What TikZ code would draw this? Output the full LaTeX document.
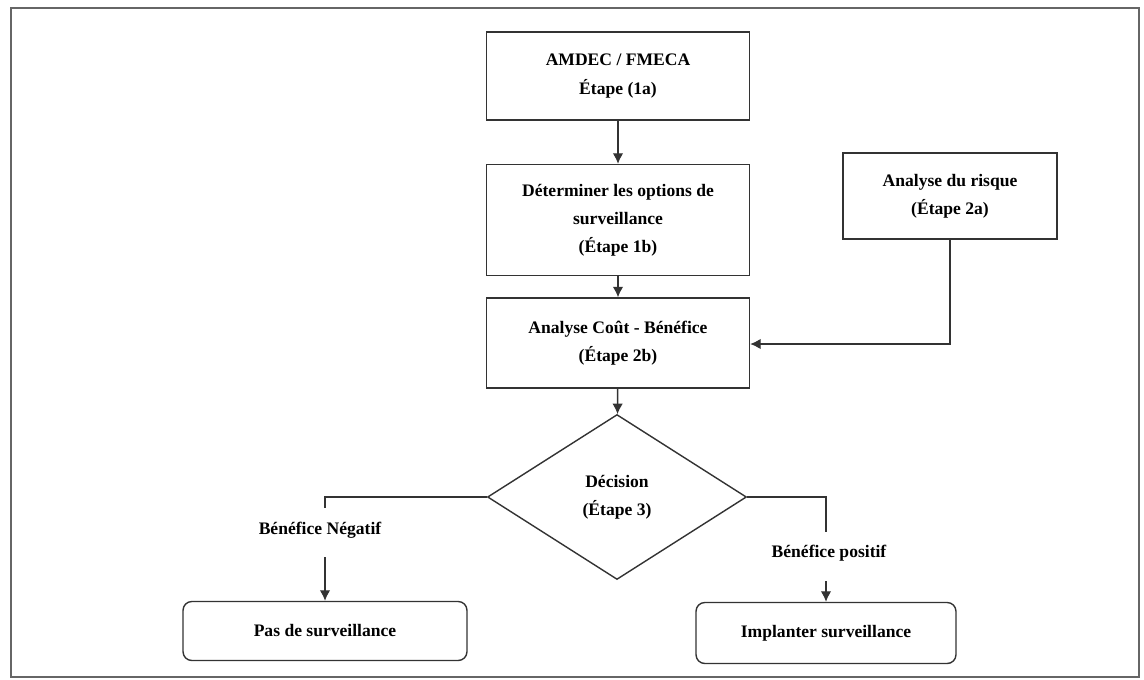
\documentclass[tikz,border=0pt]{standalone}
\usepackage{fontspec}
\setmainfont{Liberation Serif}
\usepackage{tikz}
\usetikzlibrary{arrows.meta}
\usetikzlibrary{positioning}
\usetikzlibrary{shapes.geometric}
\tikzset{>={Latex[length=6pt,width=6pt]}}
\tikzset{
  etapebox/.style = {draw=black!80, thick, align=center, font=\bfseries, inner sep=2pt},
  finbox/.style = {etapebox, rounded corners=5pt},
  decisionbox/.style = {etapebox, diamond, aspect=1.57, inner sep=0pt},
  lien/.style = {draw=black!80, thick},
  etiquette/.style = {align=center, font=\bfseries}
}

\begin{document}
\begin{tikzpicture}[x=0.02cm,y=-0.02cm]
\useasboundingbox (0,0) rectangle (1144,680);
\draw[draw=black!60, very thick] (11,8) rectangle (1139,677);

    \node [etapebox, minimum width=5.26cm, minimum height=1.76cm] (e1a) at (618,76)
      {AMDEC / FMECA\\[4pt]Étape (1a)};
    \node [etapebox, minimum width=5.26cm, minimum height=2.22cm] (e1b) at (618,220)
      {Déterminer les options de\\[4pt]surveillance\\[4pt](Étape 1b)};
    \node [etapebox, minimum width=4.28cm, minimum height=1.72cm] (e2a) at (950,196)
      {Analyse du risque\\[4pt](Étape 2a)};
    \node [etapebox, minimum width=5.26cm, minimum height=1.8cm] (e2b) at (618,343)
      {Analyse Coût - Bénéfice\\[4pt](Étape 2b)};
    \node [decisionbox, minimum width=5.18cm, minimum height=3.3cm] (e3) at (617,497)
      {Décision\\[4pt](Étape 3)};
    \node [finbox, minimum width=5.68cm, minimum height=1.18cm] (pas) at (325,631)
      {Pas de surveillance};
    \node [finbox, minimum width=5.2cm, minimum height=1.22cm] (impl) at (826,633)
      {Implanter surveillance};

    \node [etiquette] (neg) at (320,530) {Bénéfice Négatif};
    \node [etiquette] (pos) at (829,553) {Bénéfice positif};

    \coordinate (negtop) at (325,508);
    \coordinate (negbas) at (325,557);
    \coordinate (postop) at (826,532);
    \coordinate (posbas) at (826,581);
    \coordinate (coude) at (950,344);

    \draw [lien,->] (e1a) -- (e1b);
    \draw [lien,->] (e1b) -- (e2b);
    \draw [lien,->] (e2b) -- (e3);
    \draw [lien,->] (e2a.south -| coude) -- (coude) -- (e2b.east |- coude);
    \draw [lien] (e3.west) -| (negtop);
    \draw [lien,->] (negbas) -- (pas.north -| negbas);
    \draw [lien] (e3.east) -| (postop);
    \draw [lien,->] (posbas) -- (impl.north -| posbas);

\end{tikzpicture}
\end{document}
